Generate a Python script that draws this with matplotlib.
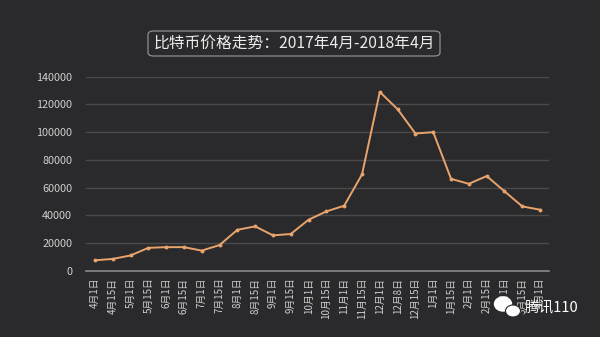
import numpy as np
import matplotlib
matplotlib.use('Agg')
import matplotlib.pyplot as plt
from matplotlib.patches import FancyBboxPatch, Ellipse

plt.rcParams['font.family'] = ['Noto Sans CJK SC', 'DejaVu Sans']

# 日期标签与价格（人民币）
dates = ['4月1日', '4月15日', '5月1日', '5月15日', '6月1日', '6月15日', '7月1日',
         '7月15日', '8月1日', '8月15日', '9月1日', '9月15日', '10月1日', '10月15日',
         '11月1日', '11月15日', '12月1日', '12月8日', '12月15日', '1月1日', '1月15日',
         '2月1日', '2月15日', '3月1日', '3月15日', '4月1日']
prices = [7500, 8500, 11000, 16500, 17000, 17000, 14500, 18500, 29500, 32000,
          25500, 26500, 36800, 42800, 46900, 69500, 129000, 116500, 99000, 100000,
          66300, 62700, 68300, 57300, 46400, 44000]
yticks = [0, 20000, 40000, 60000, 80000, 100000, 120000, 140000]

bg = '#2a2a2c'
fig = plt.figure(figsize=(6, 3.37), dpi=100, facecolor=bg)
ax = fig.add_axes([0.1433, 0.1967, 0.7717, 0.5757])
ax.set_facecolor(bg)

x = np.arange(len(dates))
ax.plot(x, prices, color='#e9a46c', lw=1.4, marker='o', ms=1.8, zorder=3)

ax.set_xlim(-0.5, len(dates) - 0.5)
ax.set_ylim(0, 140000)
ax.set_yticks(yticks)
ax.set_yticklabels([str(v) for v in yticks])
ax.set_xticks(x)
ax.set_xticklabels(dates, rotation=90)
ax.tick_params(axis='both', length=0, colors='#d0d0d0', labelsize=7.8)
ax.tick_params(axis='x', pad=5, labelsize=7)
ax.tick_params(axis='y', pad=10)

for v in yticks[1:]:
    ax.axhline(v, color='#4a4a4c', lw=1.0, zorder=1)
for s in ['top', 'right', 'left']:
    ax.spines[s].set_visible(False)
ax.spines['bottom'].set_color('#8a8a8a')
ax.spines['bottom'].set_linewidth(1.2)

# 标题框
box = FancyBboxPatch((148 / 600, 1 - 56 / 337), 292 / 600, 25 / 337,
                     boxstyle='round,pad=0,rounding_size=0.01',
                     transform=fig.transFigure, facecolor='none',
                     edgecolor='#8e8e8e', lw=0.9)
fig.patches.append(box)
fig.text(294 / 600, 1 - 43.5 / 337, '比特币价格走势：2017年4月-2018年4月',
         ha='center', va='center', color='#ececec', fontsize=11.3)

# 水印
fig.patches.append(Ellipse((503 / 600, 1 - 304 / 337), 17 / 600, 14 / 337,
                           transform=fig.transFigure, color='white'))
fig.patches.append(Ellipse((513 / 600, 1 - 311 / 337), 15 / 600, 12 / 337,
                           transform=fig.transFigure, fc='white', ec=bg, lw=0.8))
fig.text(525 / 600, 1 - 308 / 337, '腾讯110', ha='left', va='center',
         color='white', fontsize=10.5)

fig.savefig('out.png', dpi=100, facecolor=bg)
